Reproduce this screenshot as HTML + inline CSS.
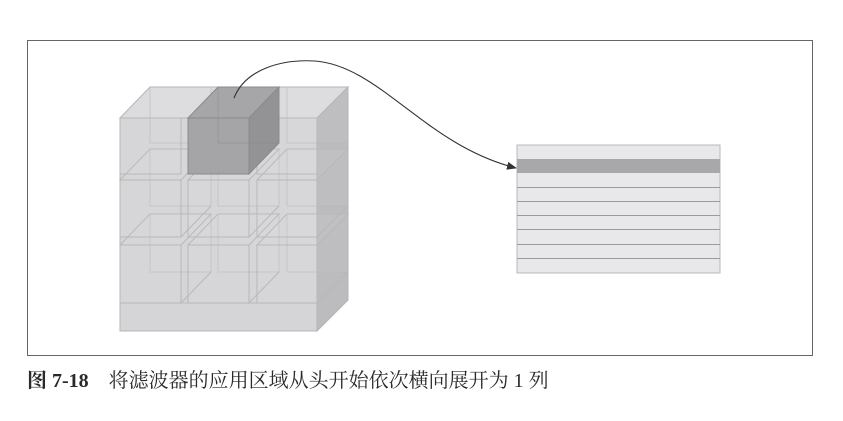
<!DOCTYPE html>
<html><head><meta charset="utf-8"><style>
body{margin:0;background:#fff;width:843px;height:421px;overflow:hidden}
svg{position:absolute;left:0;top:0}
.cap{position:absolute;left:27px;top:369px;font-family:"Liberation Serif","Noto Serif CJK SC",serif;font-size:20px;line-height:24px;color:#2a2a2a;white-space:nowrap}
</style></head><body>
<svg width="843" height="421" viewBox="0 0 843 421">
<defs><marker id="ah" markerWidth="10" markerHeight="8" refX="9" refY="4" orient="auto" markerUnits="userSpaceOnUse"><path d="M0,0 L10,4 L0,8 Z" fill="#333"/></marker></defs>
<rect x="27.5" y="40.5" width="785" height="315" fill="none" stroke="#666" stroke-width="1"/>
<polygon points="120,118 150,87 348,87 317,118" fill="#dcdcde" stroke="#b5b5b7"/>
<polygon points="317,118 348,87 348,300 317,331" fill="#bcbcbe" stroke="#b5b5b7"/>
<rect x="120" y="118" width="197" height="213" fill="#d5d5d7" stroke="#b5b5b7"/>
<line x1="120" y1="303" x2="317" y2="303" stroke="#bbb"/>
<g fill="rgba(255,255,255,0.04)" stroke="#b8b8ba" stroke-width="1">
<g stroke-opacity="0.6">
<rect x="150" y="87" width="61" height="56"/><rect x="218" y="87" width="61" height="56"/><rect x="287" y="87" width="61" height="56"/>
<rect x="150" y="149" width="61" height="57"/><rect x="218" y="149" width="61" height="57"/><rect x="287" y="149" width="61" height="57"/>
<rect x="150" y="214" width="61" height="58"/><rect x="218" y="214" width="61" height="58"/><rect x="287" y="214" width="61" height="58"/>
</g>
<polygon points="120,180 150,149 211,149 181,180"/><polygon points="188,180 218,149 279,149 249,180"/><polygon points="257,180 287,149 348,149 317,180"/>
<polygon points="120,245 150,214 211,214 181,245"/><polygon points="188,245 218,214 279,214 249,245"/><polygon points="257,245 287,214 348,214 317,245"/>
<rect x="120" y="118" width="61" height="56"/><rect x="188" y="118" width="61" height="56"/><rect x="257" y="118" width="60" height="56"/>
<rect x="120" y="180" width="61" height="57"/><rect x="188" y="180" width="61" height="57"/><rect x="257" y="180" width="60" height="57"/>
<rect x="120" y="245" width="61" height="58"/><rect x="188" y="245" width="61" height="58"/><rect x="257" y="245" width="60" height="58"/>
<line x1="181" y1="303" x2="211" y2="272"/><line x1="249" y1="303" x2="279" y2="272"/><line x1="317" y1="303" x2="348" y2="272"/>
<line x1="181" y1="237" x2="211" y2="206"/><line x1="249" y1="237" x2="279" y2="206"/><line x1="317" y1="237" x2="348" y2="206"/>
</g>
<polygon points="188,118 218,87 279,87 249,118" fill="#a6a6a8" stroke="#8a8a8c"/>
<polygon points="249,118 279,87 279,143 249,174" fill="#939395" stroke="#8a8a8c"/>
<rect x="188" y="118" width="61" height="56" fill="#a2a2a4" stroke="#8a8a8c" fill-opacity="0.95"/>
<line x1="218" y1="87" x2="218" y2="143" stroke="#8a8a8c" stroke-opacity="0.5"/>
<line x1="218" y1="143" x2="279" y2="143" stroke="#8a8a8c" stroke-opacity="0.5"/>
<path d="M234,98 C245,70 280,59 315,61 C380,66 425,145 516,168" fill="none" stroke="#333" stroke-width="1.1" marker-end="url(#ah)"/>
<rect x="517" y="145" width="203" height="128" fill="#e8e8ea" stroke="#b8b8ba"/>
<rect x="517" y="159" width="203" height="14" fill="#a8a8aa"/>
<g stroke="#9a9a9c" stroke-width="1">
<line x1="517" y1="187.5" x2="720" y2="187.5"/><line x1="517" y1="201.5" x2="720" y2="201.5"/>
<line x1="517" y1="215.5" x2="720" y2="215.5"/><line x1="517" y1="229.5" x2="720" y2="229.5"/>
<line x1="517" y1="244.5" x2="720" y2="244.5"/><line x1="517" y1="258.5" x2="720" y2="258.5"/>
</g>
</svg>
<div class="cap"><b>图 7-18</b>&nbsp;&nbsp;&nbsp; 将滤波器的应用区域从头开始依次横向展开为 1 列</div>
</body></html>
